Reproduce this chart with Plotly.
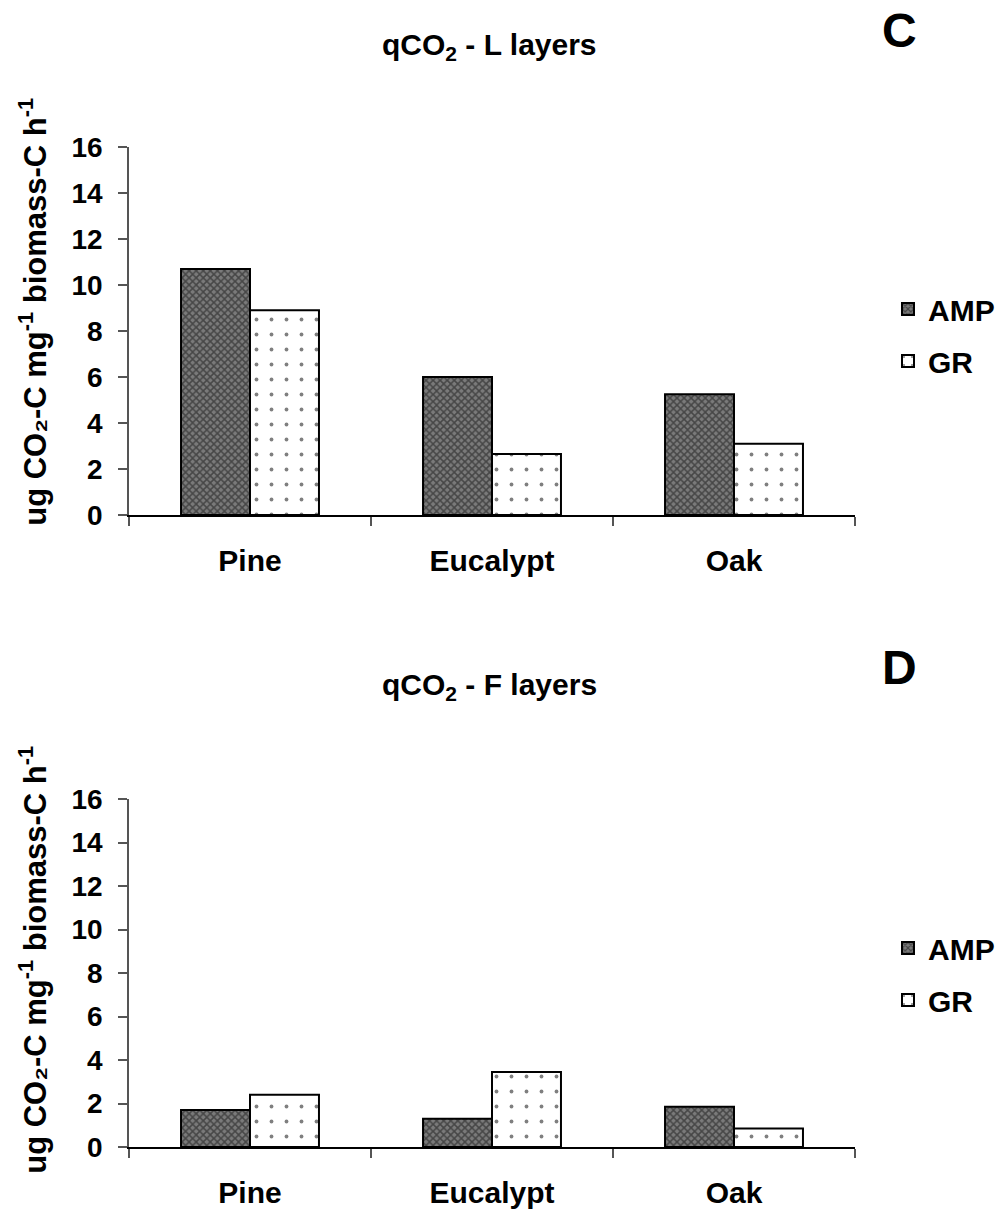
import plotly.graph_objects as go

categories = ["Pine", "Eucalypt", "Oak"]
series_names = ["AMP", "GR"]
l_amp = [10.7, 6.0, 5.25]
l_gr = [8.9, 2.65, 3.1]
f_amp = [1.7, 1.3, 1.85]
f_gr = [2.4, 3.45, 0.85]
y_ticks = [0, 2, 4, 6, 8, 10, 12, 14, 16]
title_top = "qCO<sub>2</sub> - L layers"
title_bot = "qCO<sub>2</sub> - F layers"
y_title = "ug CO₂-C mg<sup>-1</sup> biomass-C h<sup>-1</sup>"
panel_letters = ["C", "D"]

W, H = 1000, 1215
L, R = 129, 124
FONT = "Liberation Sans, Arial, sans-serif"

def py(p):
    return 1 - p / H

def px(p):
    return (p - L) / (W - L - R)

amp_style = dict(color="#777777", line=dict(color="black", width=2),
                 pattern=dict(shape="x", fgcolor="#111111", bgcolor="#7a7a7a", size=5, solidity=0.5))
gr_style = dict(color="white", line=dict(color="black", width=2),
                pattern=dict(shape=".", fgcolor="black", bgcolor="white", size=15, solidity=0.05))

fig = go.Figure()
data = [(l_amp, l_gr, "x", "y", "legend"), (f_amp, f_gr, "x2", "y2", "legend2")]
for amp, gr, xa, ya, lg in data:
    fig.add_trace(go.Bar(x=categories, y=amp, name=series_names[0], marker=amp_style,
                         xaxis=xa, yaxis=ya, legend=lg, legendgroup="a" + lg))
    fig.add_trace(go.Bar(x=categories, y=gr, name=series_names[1], marker=gr_style,
                         xaxis=xa, yaxis=ya, legend=lg, legendgroup="b" + lg))

tickfont = dict(family=FONT, size=28, color="black", weight="bold")
catfont = dict(family=FONT, size=30, color="black", weight="bold")

def yaxis(dom, anchor):
    return dict(domain=dom, anchor=anchor, range=[0, 16], tickvals=y_ticks,
                showline=True, linecolor="#555", linewidth=1.5, ticks="outside",
                ticklen=9, tickcolor="#555", tickwidth=1.5, showgrid=False, zeroline=False,
                tickfont=tickfont, ticklabelstandoff=10, automargin=False)

def xaxis(anchor):
    return dict(domain=[0, 1], anchor=anchor, showline=True, linecolor="black", linewidth=1.5,
                ticks="outside", tickson="boundaries", ticklen=9, tickcolor="#555", tickwidth=1.5,
                showgrid=False, tickfont=catfont, ticklabelstandoff=18, automargin=False)

top_dom = [py(515), py(147)]
bot_dom = [py(1147), py(799)]

legfont = dict(family=FONT, size=30, color="black", weight="bold")
fig.update_layout(
    width=W, height=H, margin=dict(l=L, r=R, t=0, b=0),
    paper_bgcolor="white", plot_bgcolor="white",
    barmode="group", bargap=0.43, bargroupgap=0,
    xaxis=xaxis("y"), yaxis=yaxis(top_dom, "x"),
    xaxis2=xaxis("y2"), yaxis2=yaxis(bot_dom, "x2"),
    legend=dict(x=px(910), y=py(335), xanchor="left", yanchor="middle", font=legfont,
                bgcolor="rgba(0,0,0,0)", tracegroupgap=10, itemwidth=30),
    legend2=dict(x=px(910), y=py(974), xanchor="left", yanchor="middle", font=legfont,
                 bgcolor="rgba(0,0,0,0)", tracegroupgap=10, itemwidth=30),
    showlegend=True,
)

ann = []
for t, ty, letter, ly, yc in [(title_top, 47, panel_letters[0], 31, 312),
                              (title_bot, 686, panel_letters[1], 667, 960)]:
    ann.append(dict(text=t, x=px(500), y=py(ty), xref="paper", yref="paper", showarrow=False,
                    xanchor="center", yanchor="middle",
                    font=dict(family=FONT, size=30, color="black", weight="bold")))
    ann.append(dict(text=letter, x=px(922), y=py(ly), xref="paper", yref="paper", showarrow=False,
                    xanchor="center", yanchor="middle",
                    font=dict(family=FONT, size=48, color="black", weight="bold")))
    ann.append(dict(text=y_title, x=px(30), y=py(yc), xref="paper", yref="paper", showarrow=False,
                    textangle=-90, xanchor="center", yanchor="middle",
                    font=dict(family=FONT, size=31, color="black", weight="bold")))
fig.update_layout(annotations=ann)

fig.write_html("out.html")
